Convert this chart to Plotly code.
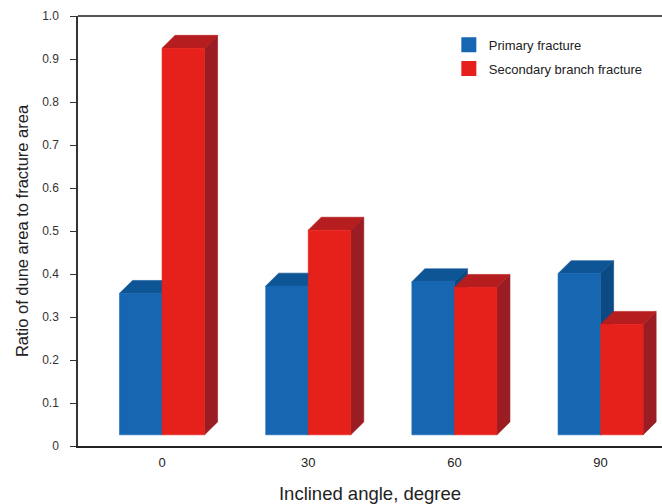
import plotly.graph_objects as go

# Inclined angle categories and measured ratios
angles = ["0", "30", "60", "90"]
positions = [0, 1, 2, 3]
primary = [0.355, 0.372, 0.382, 0.401]
secondary = [0.925, 0.502, 0.369, 0.283]

# Pseudo-3D bar geometry (data units)
BAR_W = 0.291      # width of each bar front
DEPTH_X = 0.089    # horizontal depth offset
DEPTH_Y = 0.030    # vertical depth offset
BASE = 0.026       # front-face floor

series = [
    ("Primary fracture", primary, -BAR_W,
     {"front": "#1666B2", "top": "#0E5596", "side": "#0B4A82"}),
    ("Secondary branch fracture", secondary, 0.0,
     {"front": "#E6201A", "top": "#B51D1F", "side": "#9B1D24"}),
]

fig = go.Figure()


def add_face(xs, ys, color):
    fig.add_trace(go.Scatter(
        x=xs + [xs[0]], y=ys + [ys[0]],
        mode="lines", fill="toself", fillcolor=color,
        line=dict(color=color, width=0.6),
        hoverinfo="skip", showlegend=False,
    ))


for i, p in enumerate(positions):
    for name, vals, off, col in series:
        v = vals[i]
        x0 = p + off
        x1 = x0 + BAR_W
        # right side face
        add_face([x1, x1 + DEPTH_X, x1 + DEPTH_X, x1],
                 [BASE, BASE + DEPTH_Y, v + DEPTH_Y, v], col["side"])
        # top face
        add_face([x0, x1, x1 + DEPTH_X, x0 + DEPTH_X],
                 [v, v, v + DEPTH_Y, v + DEPTH_Y], col["top"])
        # front face
        add_face([x0, x1, x1, x0], [BASE, BASE, v, v], col["front"])

# Legend entries (one group each so the gap between rows can be set)
for name, vals, off, col in series:
    fig.add_trace(go.Scatter(
        x=[None], y=[None], mode="markers", name=name, legendgroup=name,
        marker=dict(symbol="square", size=15, color=col["front"],
                    line=dict(width=0)),
    ))

font_family = "Liberation Sans, Arial, sans-serif"

fig.update_layout(
    width=662, height=504,
    margin=dict(l=78, r=0, t=16, b=58),
    plot_bgcolor="white", paper_bgcolor="white",
    font=dict(family=font_family, color="#333333", size=12),
    showlegend=True,
    legend=dict(x=0.635, y=0.968, xanchor="left", yanchor="top",
                bgcolor="rgba(0,0,0,0)", font=dict(size=13, color="#222222"),
                itemclick=False, tracegroupgap=4),
    xaxis=dict(
        range=[-0.575, 3.42], tickmode="array", tickvals=positions,
        ticktext=angles, showgrid=False, zeroline=False,
        showline=True, linecolor="#222222", linewidth=1.5,
        ticks="", tickfont=dict(size=13, color="#222222"),
        ticklabelstandoff=4,
        title=dict(text="Inclined angle, degree", standoff=18,
                   font=dict(size=18.5, color="#222222")),
        fixedrange=True,
    ),
    yaxis=dict(
        range=[0, 1], tickmode="array",
        tickvals=[0, 0.1, 0.2, 0.3, 0.4, 0.5, 0.6, 0.7, 0.8, 0.9, 1.0],
        ticktext=["0", "0.1", "0.2", "0.3", "0.4", "0.5", "0.6", "0.7",
                  "0.8", "0.9", "1.0"],
        showgrid=False, zeroline=False,
        showline=True, linecolor="#333333", linewidth=1.5,
        ticks="outside", ticklen=6, tickcolor="#333333", tickwidth=1.2,
        ticklabelstandoff=9,
        tickfont=dict(size=12, color="#333333"),
        title=dict(text="Ratio of dune area to fracture area", standoff=9,
                   font=dict(size=16.5, color="#222222")),
        fixedrange=True,
    ),
    shapes=[dict(type="line", xref="paper", yref="paper", x0=0, x1=1,
                 y0=1, y1=1, line=dict(color="#555555", width=2))],
)

fig.write_html("out.html")
